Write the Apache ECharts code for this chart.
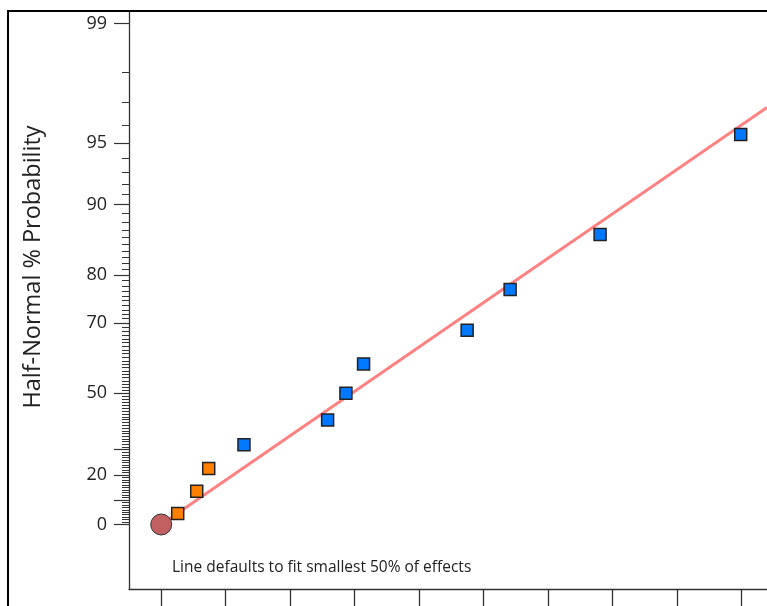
<!DOCTYPE html>
<html>
<head>
<meta charset="utf-8">
<script src="https://cdn.jsdelivr.net/npm/echarts@6/dist/echarts.min.js"></script>
<style>
html,body{margin:0;padding:0;background:#fff;}
#chart{width:767px;height:606px;}
</style>
</head>
<body>
<div id="chart"></div>
<script>
// ---- data ----
const orangeEffects = [0.256, 0.551, 0.737];
const orangeProbs   = [4.5, 13.6, 22.7];
const blueEffects   = [1.284, 2.582, 2.866, 3.140, 4.747, 5.414, 6.810, 8.992];
const blueProbs     = [31.8, 40.9, 50.0, 59.1, 68.2, 77.3, 86.4, 95.5];
const errorEffects  = [0];
const errorProbs    = [0];
const fitEffects    = [0, 9.4];
const fitProbs      = [0, 96.8];
const yTickLabels   = [0, 20, 50, 70, 80, 90, 95, 99];
const yMajorTicks   = [0, 10, 20, 30, 50, 70, 80, 90, 95, 99];
const xTicks        = [0, 1, 2, 3, 4, 5, 6, 7, 8, 9];
const yName = 'Half-Normal % Probability';
const note = 'Line defaults to fit smallest 50% of effects';

// inverse standard normal CDF (Acklam)
function invNorm(p){
  const a=[-3.969683028665376e+01,2.209460984245205e+02,-2.759285104469687e+02,1.383577518672690e+02,-3.066479806614716e+01,2.506628277459239e+00];
  const b=[-5.447609879822406e+01,1.615858368580409e+02,-1.556989798598866e+02,6.680131188771972e+01,-1.328068155288572e+01];
  const c=[-7.784894002430293e-03,-3.223964580411365e-01,-2.400758277161838e+00,-2.549732539343734e+00,4.374664141464968e+00,2.938163982698783e+00];
  const d=[7.784695709041462e-03,3.224671290700398e-01,2.445134137142996e+00,3.754408661907416e+00];
  const pl=0.02425, ph=1-pl; let q,r;
  if(p<pl){q=Math.sqrt(-2*Math.log(p));return (((((c[0]*q+c[1])*q+c[2])*q+c[3])*q+c[4])*q+c[5])/((((d[0]*q+d[1])*q+d[2])*q+d[3])*q+1);}
  if(p<=ph){q=p-0.5;r=q*q;return (((((a[0]*r+a[1])*r+a[2])*r+a[3])*r+a[4])*r+a[5])*q/(((((b[0]*r+b[1])*r+b[2])*r+b[3])*r+b[4])*r+1);}
  q=Math.sqrt(-2*Math.log(1-p));return -(((((c[0]*q+c[1])*q+c[2])*q+c[3])*q+c[4])*q+c[5])/((((d[0]*q+d[1])*q+d[2])*q+d[3])*q+1);
}
// half-normal probability (%) -> z
function hz(pct){ return pct<=0 ? 0 : invNorm((1+pct/100)/2); }

const minorTickProbs = [];
for(let i=1;i<=98;i++){ if(yMajorTicks.indexOf(i)<0) minorTickProbs.push(i); }
const labelMap = {};
yTickLabels.forEach(p=>{ labelMap[hz(p).toFixed(6)] = String(p); });

const pts = (xs, ps) => xs.map((x,i)=>[x, hz(ps[i])]);

const FONT = 'Open Sans';
const zMin = -0.3316, zMax = 2.640;

const chart = echarts.init(document.getElementById('chart'), null, {renderer:'canvas'});
chart.setOption({
  animation:false,
  backgroundColor:'#ffffff',
  grid:{left:129, top:11, right:0, bottom:17, containLabel:false},
  xAxis:{
    type:'value', min:-0.5, max:9.4,
    axisLine:{show:true, onZero:false, lineStyle:{color:'#333', width:1.3}},
    axisTick:{show:true, inside:false, length:22, customValues:xTicks, lineStyle:{color:'#333', width:1.3}},
    axisLabel:{show:false},
    splitLine:{show:false}
  },
  yAxis:[{
    type:'value', min:zMin, max:zMax, position:'left', offset:0,
    axisLine:{show:true, onZero:false, lineStyle:{color:'#333', width:1.3}},
    axisTick:{show:true, length:7, customValues:minorTickProbs.map(hz), lineStyle:{color:'#333', width:1}},
    axisLabel:{show:false},
    splitLine:{show:false}
  },{
    type:'value', min:zMin, max:zMax, position:'left', offset:0,
    name:yName, nameLocation:'middle', nameGap:84, nameRotate:90,
    nameTextStyle:{fontFamily:FONT, fontSize:23.5, color:'#222', padding:[0,0,0,66]},
    axisLine:{show:false, onZero:false},
    axisTick:{show:true, length:15, customValues:yMajorTicks.map(hz), lineStyle:{color:'#333', width:1.2}},
    axisLabel:{show:true, margin:22, fontFamily:FONT, fontSize:18, color:'#222',
      padding:[0,0,5,0],
      customValues:yTickLabels.map(hz),
      formatter:v=>labelMap[v.toFixed(6)] || ''},
    splitLine:{show:false}
  }],
  graphic:[
    {type:'rect', shape:{x:8, y:11, width:900, height:800}, style:{fill:null, stroke:'#000', lineWidth:2}, z:100},
    {type:'text', left:172, top:560, style:{text:note, font:'15.5px "Open Sans"', fill:'#222'}}
  ],
  series:[
    {type:'line', data:pts(fitEffects, fitProbs), symbol:'none', silent:true,
     lineStyle:{color:'#ff8080', width:3}, z:1},
    {type:'scatter', data:pts(orangeEffects, orangeProbs), symbol:'rect', symbolSize:12,
     itemStyle:{color:'#ff8000', borderColor:'#222', borderWidth:1.5, opacity:1}, z:3},
    {type:'scatter', data:pts(blueEffects, blueProbs), symbol:'rect', symbolSize:12,
     itemStyle:{color:'#0078ff', borderColor:'#222', borderWidth:1.5, opacity:1}, z:3},
    {type:'scatter', data:pts(errorEffects, errorProbs), symbol:'circle', symbolSize:21,
     itemStyle:{color:'#c06060', borderColor:'#333', borderWidth:1, opacity:1}, z:4}
  ]
});
</script>
</body>
</html>
